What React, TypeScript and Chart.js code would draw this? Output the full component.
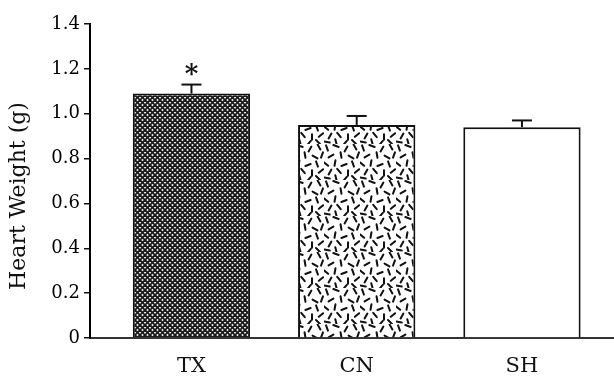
import { useEffect, useRef } from 'react';
import { Chart, registerables } from 'chart.js';

Chart.register(...registerables);

const categories = ['TX', 'CN', 'SH'];
const heartWeight = [1.09, 0.95, 0.94];
const heartWeightSem = [0.04, 0.04, 0.03];
const significance = ['*', '', ''];
const yTicks = [0, 0.2, 0.4, 0.6, 0.8, 1.0, 1.2, 1.4];
const yTitle = 'Heart Weight (g)';

// texture for the CN bar: [x, y, angleDeg] of short strokes in a 36x36 tile
const stippleDashes: [number, number, number][] = [
  [3, 4, 70], [12, 2, 20], [22, 5, 120], [31, 3, 60], [7, 12, 150],
  [17, 11, 80], [27, 13, 30], [34, 11, 110], [2, 20, 40], [11, 19, 100],
  [20, 21, 160], [29, 20, 70], [6, 28, 120], [15, 27, 50], [24, 29, 90],
  [33, 27, 140], [3, 34, 10], [12, 34, 75], [21, 35, 130], [30, 34, 45],
];

function makeCrossHatch(): CanvasPattern | string {
  const c = document.createElement('canvas');
  c.width = 5; c.height = 5;
  const g = c.getContext('2d');
  if (!g) return '#444';
  g.fillStyle = '#f4f4f4';
  g.fillRect(0, 0, 5, 5);
  g.strokeStyle = '#1a1a1a';
  g.lineWidth = 1.8;
  for (const off of [-5, 0, 5]) {
    g.beginPath(); g.moveTo(off, 0); g.lineTo(off + 5, 5); g.stroke();
    g.beginPath(); g.moveTo(off + 5, 0); g.lineTo(off, 5); g.stroke();
  }
  return g.createPattern(c, 'repeat') || '#444';
}

function makeStipple(): CanvasPattern | string {
  const c = document.createElement('canvas');
  c.width = 36; c.height = 36;
  const g = c.getContext('2d');
  if (!g) return '#fff';
  g.fillStyle = '#ffffff';
  g.fillRect(0, 0, 36, 36);
  g.strokeStyle = '#111';
  g.lineWidth = 2;
  g.lineCap = 'round';
  for (const [x, y, a] of stippleDashes) {
    const r = (a * Math.PI) / 180;
    const dx = Math.cos(r) * 2.8, dy = Math.sin(r) * 2.8;
    g.beginPath(); g.moveTo(x - dx, y - dy); g.lineTo(x + dx, y + dy); g.stroke();
  }
  return g.createPattern(c, 'repeat') || '#fff';
}

const SERIF = '"DejaVu Serif", serif';

export default function App() {
  const ref = useRef<HTMLCanvasElement | null>(null);

  useEffect(() => {
    if (!ref.current) return;
    const fills = [makeCrossHatch(), makeStipple(), '#ffffff'];

    const errorBars = {
      id: 'errorBars',
      afterDatasetsDraw(chart: any) {
        const { ctx } = chart;
        const yScale = chart.scales.y;
        const meta = chart.getDatasetMeta(0);
        ctx.save();
        ctx.strokeStyle = '#111';
        ctx.fillStyle = '#111';
        meta.data.forEach((el: any, i: number) => {
          const top = yScale.getPixelForValue(heartWeight[i] + heartWeightSem[i]);
          ctx.lineWidth = 2;
          ctx.beginPath(); ctx.moveTo(el.x, el.y); ctx.lineTo(el.x, top); ctx.stroke();
          ctx.beginPath(); ctx.moveTo(el.x - 10, top); ctx.lineTo(el.x + 10, top); ctx.stroke();
          if (significance[i]) {
            ctx.font = 'bold 26px ' + SERIF;
            ctx.textAlign = 'center';
            ctx.textBaseline = 'alphabetic';
            ctx.fillText(significance[i], el.x, top - 3);
          }
        });
        ctx.restore();
      },
    };

    const yTitlePlugin = {
      id: 'yTitle',
      afterDraw(chart: any) {
        const { ctx } = chart;
        ctx.save();
        ctx.translate(19, 196);
        ctx.rotate(-Math.PI / 2);
        ctx.font = '22px ' + SERIF;
        ctx.fillStyle = '#111';
        ctx.textAlign = 'center';
        ctx.textBaseline = 'middle';
        ctx.fillText(yTitle, 0, 0);
        ctx.restore();
      },
    };

    const chart = new Chart(ref.current, {
      type: 'bar',
      data: {
        datasets: [
          {
            data: categories.map((_, i) => ({ x: i, y: heartWeight[i] })),
            backgroundColor: fills as any,
            borderColor: '#111',
            borderWidth: 2,
            borderSkipped: 'bottom',
            barPercentage: 0.71,
            categoryPercentage: 1,
          },
        ],
      },
      options: {
        animation: false,
        responsive: false,
        layout: { padding: { top: 24, right: 0, bottom: 0, left: 0 } },
        plugins: { legend: { display: false }, tooltip: { enabled: false } },
        scales: {
          x: {
            type: 'linear',
            min: -0.614,
            max: 2.557,
            offset: false,
            afterBuildTicks: (s: any) => {
              s.ticks = categories.map((_, i) => ({ value: i }));
            },
            ticks: {
              callback: (v: any) => categories[v] ?? '',
              font: { family: SERIF, size: 21 },
              color: '#111',
              padding: 16,
              autoSkip: false,
              maxRotation: 0,
            },
            grid: { display: false, drawTicks: false },
            border: { display: true, color: '#333', width: 2 },
            afterFit: (s: any) => { s.height = 47; },
          },
          y: {
            min: 0,
            max: 1.4,
            afterBuildTicks: (s: any) => {
              s.ticks = yTicks.map((v) => ({ value: v }));
            },
            ticks: {
              callback: (v: any) => (v === 0 ? '0' : Number(v).toFixed(1)),
              font: { family: SERIF, size: 18 },
              color: '#000',
              padding: 4,
            },
            grid: { drawOnChartArea: false, drawTicks: true, tickLength: 6, color: '#111', lineWidth: 1.5 },
            border: { display: true, color: '#000', width: 2 },
            afterFit: (s: any) => { s.width = 90; },
          },
        },
      },
      plugins: [errorBars, yTitlePlugin],
    });
    return () => chart.destroy();
  }, []);

  return (
    <div style={{ position: 'fixed', left: 0, top: 0, width: 614, height: 385, background: '#fff' }}>
      <canvas ref={ref} width={614} height={385} />
    </div>
  );
}
